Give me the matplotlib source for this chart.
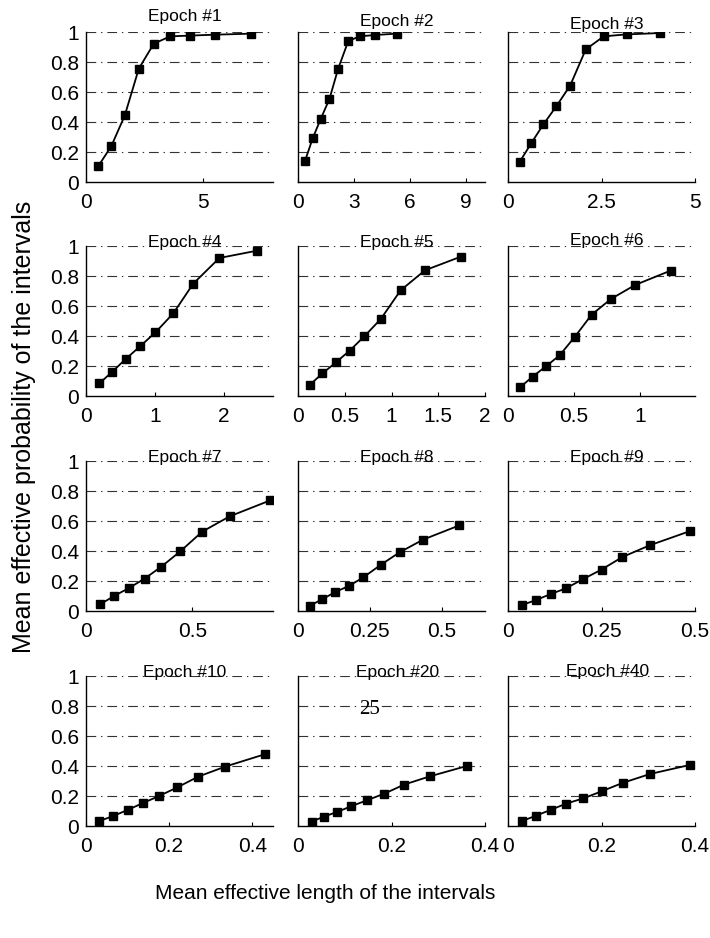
import matplotlib
matplotlib.use("Agg")
import matplotlib.pyplot as plt

plt.rcParams['font.family'] = ['Liberation Sans', 'DejaVu Sans']
plt.rcParams['lines.scale_dashes'] = False

# Data
titles = ["Epoch #1", "Epoch #2", "Epoch #3", "Epoch #4", "Epoch #5", "Epoch #6",
          "Epoch #7", "Epoch #8", "Epoch #9", "Epoch #10", "Epoch #20", "Epoch #40"]

x_e1 = [0.53, 1.08, 1.66, 2.26, 2.90, 3.60, 4.45, 5.50, 7.06]
y_e1 = [0.107, 0.238, 0.444, 0.756, 0.922, 0.971, 0.976, 0.982, 0.989]
x_e2 = [0.38, 0.79, 1.22, 1.68, 2.15, 2.69, 3.30, 4.12, 5.29]
y_e2 = [0.142, 0.293, 0.422, 0.553, 0.756, 0.94, 0.971, 0.98, 0.989]
x_e3 = [0.31, 0.625, 0.946, 1.29, 1.66, 2.08, 2.56, 3.17, 4.06]
y_e3 = [0.133, 0.26, 0.384, 0.504, 0.642, 0.884, 0.971, 0.984, 0.993]
x_e4 = [0.194, 0.383, 0.578, 0.791, 1.01, 1.27, 1.56, 1.94, 2.49]
y_e4 = [0.084, 0.162, 0.247, 0.333, 0.424, 0.551, 0.749, 0.92, 0.969]
x_e5 = [0.129, 0.262, 0.405, 0.552, 0.71, 0.885, 1.097, 1.358, 1.742]
y_e5 = [0.076, 0.151, 0.224, 0.302, 0.398, 0.513, 0.704, 0.838, 0.929]
x_e6 = [0.094, 0.187, 0.291, 0.392, 0.506, 0.635, 0.782, 0.965, 1.235]
y_e6 = [0.06, 0.129, 0.2, 0.271, 0.393, 0.542, 0.647, 0.74, 0.836]
x_e7 = [0.066, 0.132, 0.202, 0.276, 0.355, 0.444, 0.547, 0.676, 0.868]
y_e7 = [0.044, 0.1, 0.153, 0.216, 0.296, 0.398, 0.529, 0.631, 0.738]
x_e8 = [0.042, 0.084, 0.13, 0.177, 0.227, 0.287, 0.353, 0.435, 0.561]
y_e8 = [0.036, 0.078, 0.127, 0.167, 0.224, 0.307, 0.391, 0.476, 0.571]
x_e9 = [0.0375, 0.075, 0.114, 0.155, 0.201, 0.25, 0.306, 0.379, 0.487]
y_e9 = [0.04, 0.073, 0.113, 0.151, 0.213, 0.276, 0.36, 0.438, 0.533]
x_e10 = [0.032, 0.066, 0.1, 0.137, 0.176, 0.22, 0.27, 0.335, 0.43]
y_e10 = [0.033, 0.067, 0.107, 0.153, 0.2, 0.258, 0.329, 0.396, 0.478]
x_e20 = [0.029, 0.055, 0.084, 0.114, 0.148, 0.185, 0.227, 0.282, 0.361]
y_e20 = [0.029, 0.062, 0.094, 0.132, 0.172, 0.216, 0.276, 0.331, 0.4]
x_e40 = [0.03, 0.06, 0.091, 0.124, 0.161, 0.2, 0.245, 0.304, 0.389]
y_e40 = [0.033, 0.069, 0.107, 0.149, 0.184, 0.231, 0.287, 0.347, 0.407]

xs = [x_e1, x_e2, x_e3, x_e4, x_e5, x_e6, x_e7, x_e8, x_e9, x_e10, x_e20, x_e40]
ys = [y_e1, y_e2, y_e3, y_e4, y_e5, y_e6, y_e7, y_e8, y_e9, y_e10, y_e20, y_e40]

x_max = [8, 10, 5, 2.72, 2, 1.42, 0.88, 0.65, 0.5, 0.45, 0.4, 0.4]
x_ticks = [[0, 5], [0, 3, 6, 9], [0, 2.5, 5], [0, 1, 2], [0, 0.5, 1, 1.5, 2],
           [0, 0.5, 1], [0, 0.5], [0, 0.25, 0.5], [0, 0.25, 0.5],
           [0, 0.2, 0.4], [0, 0.2, 0.4], [0, 0.2, 0.4]]
y_ticks = [0, 0.2, 0.4, 0.6, 0.8, 1]
y_ticklabels = ["0", "0.2", "0.4", "0.6", "0.8", "1"]

title_pad = [8, 4, 2.5, -1, -1, 1, -1, -1, -1, -1, -1, 0]

W, H = 710, 938
fig = plt.figure(figsize=(W / 100, H / 100), dpi=100)

col_left = [86, 298, 508]
row_top = [32, 246, 461, 676]
aw, ah = 187, 150

for i in range(12):
    r, c = divmod(i, 3)
    ax = fig.add_axes([col_left[c] / W, 1 - (row_top[r] + ah) / H, aw / W, ah / H])
    for yv in y_ticks[1:]:
        ax.axhline(yv, color='0.2', lw=0.8, linestyle=(0, (7, 3.5, 1, 3.5)), zorder=1)
    ax.plot(xs[i], ys[i], color='black', lw=1.3, marker='s', markersize=5.5, zorder=3)
    ax.set_xlim(0, x_max[i])
    ax.set_ylim(0, 1)
    ax.set_xticks(x_ticks[i])
    ax.set_xticklabels([('%g' % t) for t in x_ticks[i]])
    ax.set_yticks(y_ticks)
    if c == 0:
        ax.set_yticklabels(y_ticklabels)
    else:
        ax.set_yticklabels([])
    ax.tick_params(axis='x', direction='in', length=3, width=0.8, labelsize=15, pad=8)
    ax.tick_params(axis='y', direction='in', length=0, labelsize=15, pad=5)
    ax.spines['top'].set_visible(False)
    ax.spines['right'].set_visible(False)
    ax.spines['left'].set_linewidth(1)
    ax.spines['bottom'].set_linewidth(1)
    ax.set_title(titles[i], fontsize=12.5, pad=title_pad[i], x=0.53, y=1.0)

fig.text(24 / W, 1 - 427 / H, "Mean effective probability of the intervals",
         rotation=90, ha='center', va='center', fontsize=18)
fig.text(325 / W, 1 - 893 / H, "Mean effective length of the intervals",
         ha='center', va='center', fontsize=15)
fig.text(370 / W, 1 - 710 / H, "25", ha='center', va='center', fontsize=15,
         family=['Liberation Serif', 'DejaVu Serif'])

fig.savefig("out.png", dpi=100)
